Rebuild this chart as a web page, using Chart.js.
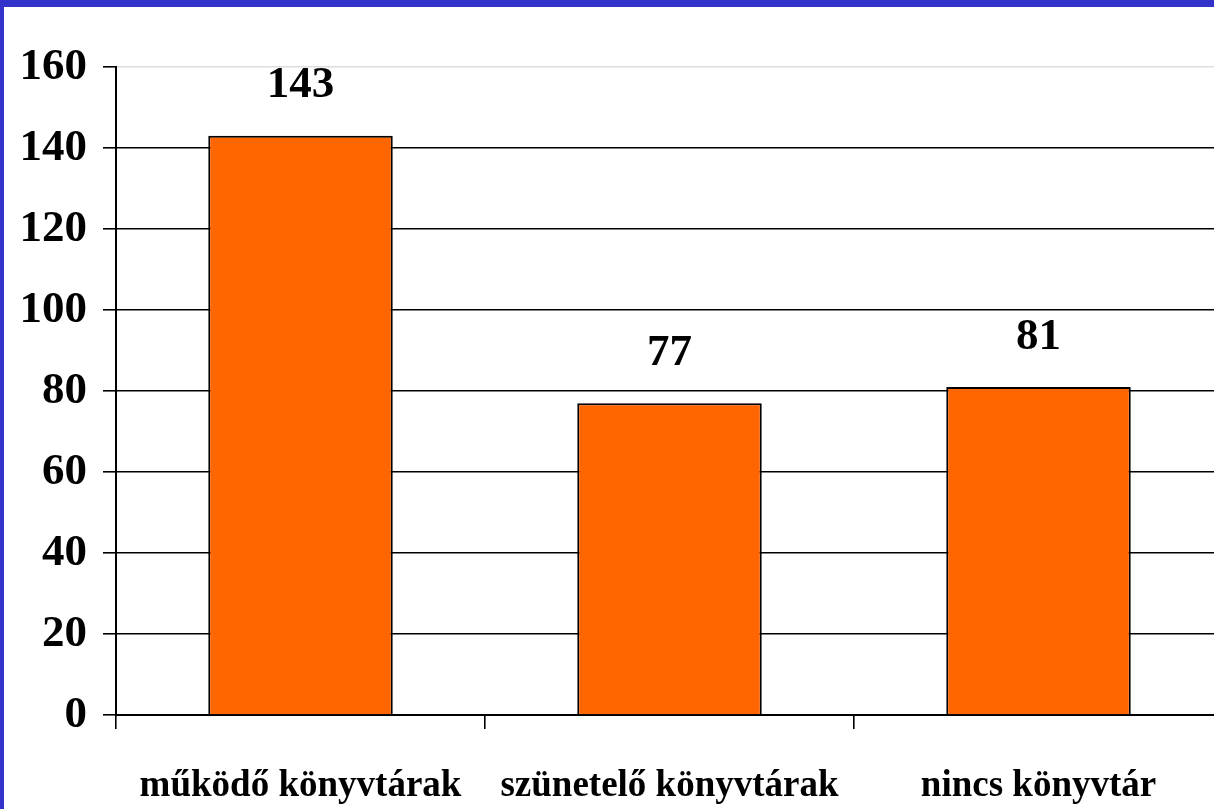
<!DOCTYPE html>
<html>
<head>
<meta charset="utf-8">
<script src="https://cdn.jsdelivr.net/npm/chart.js@4"></script>
<style>
  html, body { margin: 0; padding: 0; background: #fff; overflow: hidden; width: 1214px; height: 809px; }
  #wrap { position: absolute; left: 0; top: 0; width: 1230px; height: 809px; }
  #topbar { position: absolute; left: 0; top: 0; width: 1214px; height: 7px; background: #3333CC; z-index: 2; }
  #leftbar { position: absolute; left: 0; top: 0; width: 4px; height: 809px; background: #3333CC; z-index: 2; }
</style>
</head>
<body>
<div id="topbar"></div>
<div id="leftbar"></div>
<div id="wrap"><canvas id="c" width="1230" height="809"></canvas></div>
<script>
const categories = ["működő könyvtárak", "szünetelő könyvtárak", "nincs könyvtár"];
const values = [143, 77, 81];
const yTicks = [0, 20, 40, 60, 80, 100, 120, 140, 160];

const FONT = "'Liberation Serif', 'Times New Roman', serif";

const valueLabels = {
  id: 'valueLabels',
  afterDatasetsDraw(chart) {
    const ctx = chart.ctx;
    const meta = chart.getDatasetMeta(0);
    ctx.save();
    ctx.font = "bold 45px " + FONT;
    ctx.fillStyle = "#000";
    ctx.textAlign = "center";
    ctx.textBaseline = "middle";
    meta.data.forEach((bar, i) => {
      ctx.fillText(String(values[i]), bar.x, bar.y - 50);
    });
    ctx.restore();
  }
};

new Chart(document.getElementById('c'), {
  type: 'bar',
  data: {
    labels: categories,
    datasets: [{
      data: values,
      backgroundColor: '#FF6600',
      borderColor: '#000',
      borderWidth: 2,
      barPercentage: 0.5,
      categoryPercentage: 1.0
    }]
  },
  options: {
    responsive: false,
    animation: false,
    layout: { padding: { top: 67, right: 7, left: 0, bottom: 0 } },
    plugins: { legend: { display: false }, tooltip: { enabled: false } },
    scales: {
      y: {
        min: 0, max: 160,
        afterBuildTicks(scale) { scale.ticks = yTicks.map(v => ({ value: v })); },
        afterFit(scale) { scale.width = 116; },
        border: { color: '#000', width: 2 },
        grid: {
          color: (c) => (c.tick && c.tick.value === 160) ? '#dddddd' : '#000',
          lineWidth: 1.6,
          tickColor: '#000',
          tickLength: 13
        },
        ticks: {
          color: '#000',
          padding: 16,
          font: { family: FONT, size: 45, weight: 'bold' }
        }
      },
      x: {
        afterFit(scale) { scale.height = 94; },
        border: { color: '#000', width: 2 },
        grid: {
          offset: true,
          drawOnChartArea: false,
          drawTicks: true,
          tickLength: 14,
          tickColor: '#000',
          lineWidth: 1.6
        },
        ticks: {
          color: '#000',
          padding: 35,
          maxRotation: 0,
          autoSkip: false,
          font: { family: FONT, size: 37, weight: 'bold' }
        }
      }
    }
  },
  plugins: [valueLabels]
});
</script>
</body>
</html>
